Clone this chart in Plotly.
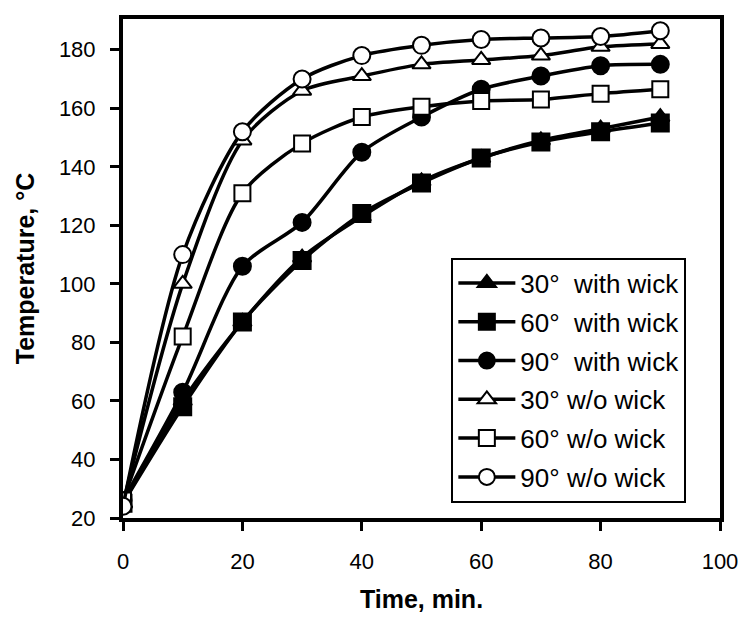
import plotly.graph_objects as go

time_min = [0, 10, 20, 30, 40, 50, 60, 70, 80, 90]

t30_wick = [25, 60, 87, 109, 123, 135, 143, 149, 153, 157]
t60_wick = [25, 58, 87, 108, 124, 134.5, 143, 148.5, 152, 155]
t90_wick = [26, 63, 106, 121, 145, 157, 166.5, 171, 174.5, 175]
t30_nowick = [25, 100, 149, 166, 171, 175, 176.5, 178, 181, 182]
t60_nowick = [26, 82, 131, 148, 157, 160.5, 162.5, 163, 165, 166.5]
t90_nowick = [24, 110, 152, 170, 178, 181.5, 183.5, 184, 184.5, 186.5]

labels = ["30°\u00a0\u00a0with wick", "60°\u00a0\u00a0with wick", "90°\u00a0\u00a0with wick",
          "30° w/o wick", "60° w/o wick", "90° w/o wick"]
series = [t30_wick, t60_wick, t90_wick, t30_nowick, t60_nowick, t90_nowick]
symbols = ["triangle-up", "square", "circle", "triangle-up", "square", "circle"]
fills = ["black", "black", "black", "white", "white", "white"]
sizes = [16, 17, 17, 16, 16, 17]

fig = go.Figure()
for i, (lab, ys, sym, fc, sz) in enumerate(zip(labels, series, symbols, fills, sizes)):
    fig.add_trace(go.Scatter(
        x=time_min, y=ys, name=lab, mode="lines+markers",
        legendgroup=str(i),
        line=dict(color="black", width=3.5, shape="spline", smoothing=0.8),
        marker=dict(symbol=sym, size=sz, color=fc, line=dict(color="black", width=2)),
    ))

font = "Liberation Sans, Arial, sans-serif"
fig.update_layout(
    width=739, height=609,
    margin=dict(l=115, r=27, t=7, b=97),
    paper_bgcolor="white", plot_bgcolor="white",
    font=dict(family=font, size=22, color="black"),
    showlegend=True,
    legend=dict(x=0.550, y=0.522, xanchor="left", yanchor="top",
                bordercolor="black", borderwidth=2, bgcolor="white",
                font=dict(size=26, family=font), tracegroupgap=2,
                traceorder="grouped", itemwidth=57),
    xaxis=dict(range=[0, 100], tickvals=[0, 20, 40, 60, 80, 100],
               showgrid=False, zeroline=False, showline=True, linecolor="black",
               linewidth=4, mirror=True, ticks="outside", ticklen=9, tickwidth=3,
               tickcolor="black", ticklabelstandoff=12,
               title=dict(text="<b>Time, min.</b>", font=dict(size=25), standoff=18)),
    yaxis=dict(range=[20, 190.5], tickvals=[20, 40, 60, 80, 100, 120, 140, 160, 180],
               showgrid=False, zeroline=False, showline=True, linecolor="black",
               linewidth=4, mirror=True, ticks="outside", ticklen=9, tickwidth=3,
               tickcolor="black", ticklabelstandoff=10,
               title=dict(text="<b>Temperature, °C</b>", font=dict(size=25), standoff=18)),
)

fig.write_html("out.html")
